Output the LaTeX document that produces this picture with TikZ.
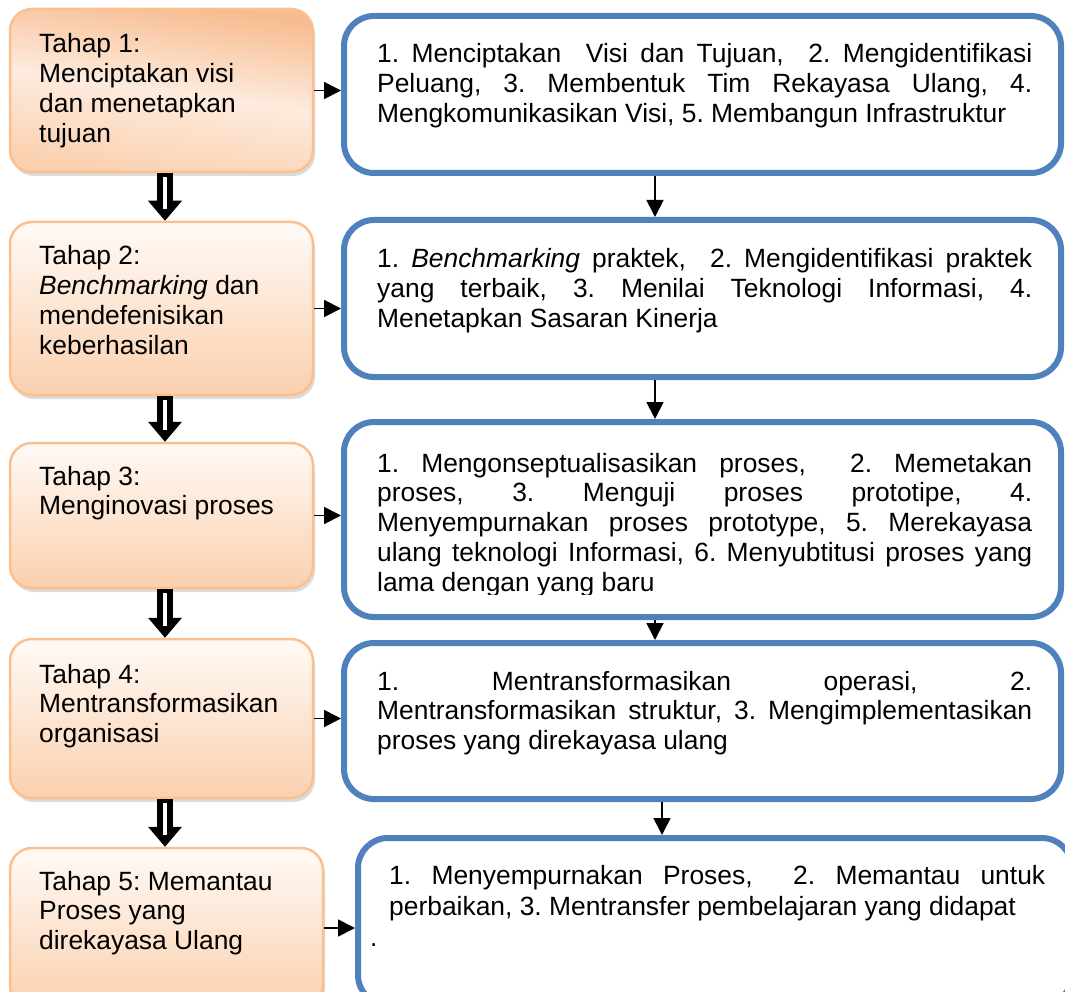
\documentclass[tikz,border=0pt]{standalone}
\usepackage{fontspec}
\setmainfont{Liberation Sans}
\usetikzlibrary{arrows.meta,shadows}

\definecolor{stageedge}{HTML}{FAC08F}
\definecolor{stagedeep}{HTML}{F7BB8D}
\definecolor{stagemid}{HTML}{FBD0AE}
\definecolor{stagelight}{HTML}{FFFAF6}
\definecolor{stageglow}{HTML}{FDEBDE}
\definecolor{stepblue}{HTML}{4F81BD}

\tikzset{
  stage/.style={draw=stageedge, line width=2.5pt, rounded corners=22pt,
    inner sep=0pt, top color=stagelight, bottom color=stagemid,
    drop shadow={shadow xshift=2pt, shadow yshift=-4pt, opacity=.28}},
  stagefirst/.style={stage, top color=stagedeep, bottom color=stagemid,
    middle color=stageglow, shading angle=-8},
  stepbox/.style={draw=stepblue, line width=6pt, rounded corners=30pt,
    fill=white, inner sep=0pt},
  bodytext/.style={anchor=base west, inner sep=0pt,
    font=\fontsize{26.4}{29.8}\selectfont\frenchspacing},
  feed/.style={line width=1.8pt, -{Triangle[length=17pt,width=17pt]}},
  advance/.style={line width=16pt,
    -{Triangle[length=20pt,width=34pt,line width=0pt]}},
  slit/.style={white, line width=3.5pt, shorten <=4pt, shorten >=12pt}
}

\begin{document}
\begin{tikzpicture}[x=1pt, y=-1pt]
\useasboundingbox (0,0) rectangle (1065,992);
\clip (0,0) rectangle (1065,992);

% column guides for the connectors
\coordinate (spine) at (165,0);
\coordinate (railA) at (655,0);
\coordinate (railB) at (662,0);

% stage boxes (left column)
\node[stagefirst, minimum width=303pt, minimum height=163pt] (L1) at (161.5,90.5) {};
\node[stage, minimum width=303pt, minimum height=173pt] (L2) at (161.5,308.5) {};
\node[stage, minimum width=303pt, minimum height=145pt] (L3) at (161.5,515.5) {};
\node[stage, minimum width=303pt, minimum height=159pt] (L4) at (161.5,718.5) {};
\node[stage, minimum width=313pt, minimum height=160pt] (L5) at (166.5,928) {};

% activity boxes (right column)
\node[stepbox, minimum width=717pt, minimum height=157pt] (R1) at (702.5,94.5) {};
\node[stepbox, minimum width=717pt, minimum height=157pt] (R2) at (702.5,298.5) {};
\node[stepbox, minimum width=717pt, minimum height=195pt] (R3) at (702.5,519.5) {};
\node[stepbox, minimum width=717pt, minimum height=156pt] (R4) at (702.5,721) {};
\node[stepbox, minimum width=714pt, minimum height=167pt] (R5) at (715,921.5) {};

% stage to stage
\foreach \a/\b in {L1/L2, L2/L3, L3/L4, L4/L5}{
  \draw[advance] (\a.south -| spine) -- (\b.north -| spine);
  \draw[slit] (\a.south -| spine) -- (\b.north -| spine);
}

% stage to its activities
\foreach \i in {1,...,5}{
  \draw[feed] (L\i.east) -- (L\i.east -| R\i.west);
}

% activities to activities
\draw[feed] (R1.south -| railA) -- (R2.north -| railA);
\draw[feed] (R2.south -| railA) -- (R3.north -| railA);
\draw[feed] (R3.south -| railA) -- (R4.north -| railA);
\draw[feed] (R4.south -| railB) -- (R5.north -| railB);

% stage labels
\node[bodytext] (t1) at (39,53) {\parbox[t]{265pt}{Tahap 1:\\Menciptakan visi\\dan menetapkan\\tujuan}};
\node[bodytext] (t2) at (39,265) {\parbox[t]{265pt}{Tahap 2:\\\textit{Benchmarking} dan\\mendefenisikan\\keberhasilan}};
\node[bodytext] (t3) at (39,485) {\parbox[t]{265pt}{Tahap 3:\\Menginovasi proses}};
\node[bodytext] (t4) at (39,683) {\parbox[t]{265pt}{Tahap 4:\\Mentransformasikan\\organisasi}};
\node[bodytext] (t5) at (39,890) {\parbox[t]{275pt}{Tahap 5: Memantau\\Proses yang\\direkayasa Ulang}};

% activity texts
\node[bodytext] (s1) at (377,63) {\parbox[t]{655pt}{1. Menciptakan\ \ Visi dan Tujuan,\ \ 2. Mengidentifikasi\linebreak Peluang, 3. Membentuk Tim Rekayasa Ulang, 4.\linebreak Mengkomunikasikan Visi, 5. Membangun Infrastruktur}};
\node[bodytext] (s2) at (377,268) {\parbox[t]{655pt}{1. \textit{Benchmarking} praktek,\ \ 2. Mengidentifikasi praktek\linebreak yang terbaik, 3. Menilai Teknologi Informasi, 4.\linebreak Menetapkan Sasaran Kinerja}};
\begin{scope}
\clip (340,420) rectangle (1065,594);
\node[bodytext] (s3) at (377,472) {\parbox[t]{655pt}{1. Mengonseptualisasikan proses,\ \ 2. Memetakan\linebreak proses, 3. Menguji proses prototipe, 4.\linebreak Menyempurnakan proses prototype, 5. Merekayasa\linebreak ulang teknologi Informasi, 6. Menyubtitusi proses yang\linebreak lama dengan yang baru}};
\end{scope}
\node[bodytext] (s4) at (377,690) {\parbox[t]{655pt}{1. Mentransformasikan operasi, 2.\linebreak Mentransformasikan struktur, 3. Mengimplementasikan\linebreak proses yang direkayasa ulang}};
\node[bodytext, font=\fontsize{26.4}{31}\selectfont\frenchspacing] (s5) at (389,884) {\parbox[t]{656pt}{1. Menyempurnakan Proses,\ \ 2. Memantau untuk\linebreak perbaikan, 3. Mentransfer pembelajaran yang didapat\par\hspace*{-19pt}.}};
\end{tikzpicture}
\end{document}
